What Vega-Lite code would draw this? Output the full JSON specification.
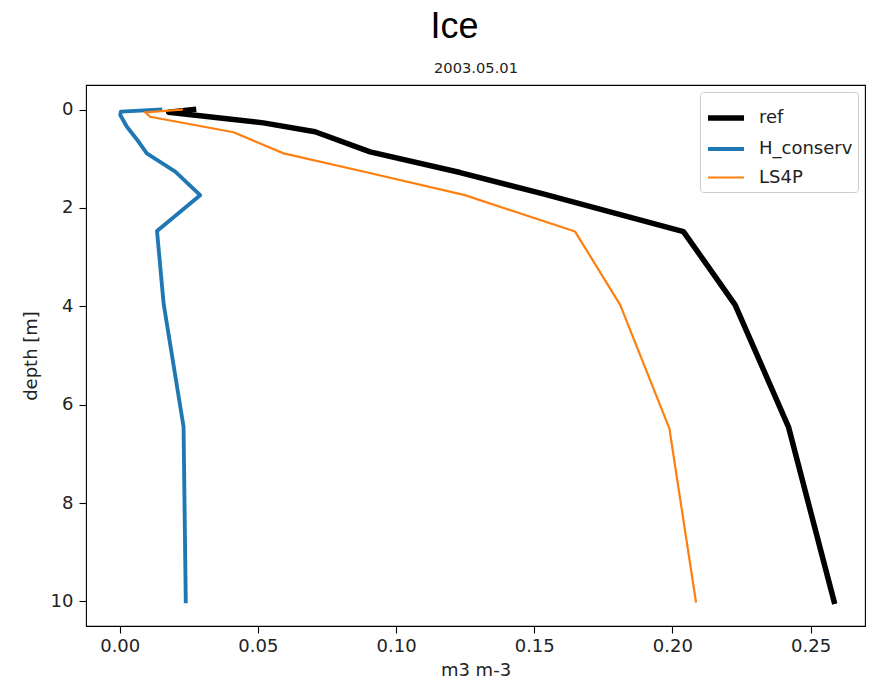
{
  "$schema": "https://vega.github.io/schema/vega-lite/v6.json",
  "autosize": {"type": "none"},
  "width": 779,
  "height": 541,
  "padding": {"left": 86, "top": 85, "right": 18, "bottom": 61},
  "background": "white",
  "title": {
    "text": "Ice",
    "anchor": "middle",
    "dx": -21,
    "font": "Liberation Sans",
    "fontSize": 36,
    "fontWeight": "normal",
    "color": "black",
    "offset": 14
  },
  "config": {
    "view": {"stroke": "black", "strokeWidth": 1.1},
    "axis": {
      "labelFont": "DejaVu Sans",
      "titleFont": "DejaVu Sans",
      "labelFontSize": 18,
      "titleFontSize": 18,
      "labelColor": "#222",
      "titleColor": "#222",
      "titleFontWeight": "normal",
      "grid": false,
      "domain": false,
      "tickColor": "black",
      "tickSize": 7,
      "tickWidth": 1.1
    },
    "legend": {
      "labelFont": "DejaVu Sans",
      "labelFontSize": 18,
      "labelColor": "#222"
    }
  },
  "data": {
    "values": [
      {"series": "ref", "depth": 0.0, "value": 0.0267},
      {"series": "ref", "depth": 0.055, "value": 0.0177},
      {"series": "ref", "depth": 0.27, "value": 0.052},
      {"series": "ref", "depth": 0.45, "value": 0.0707},
      {"series": "ref", "depth": 0.86, "value": 0.0906},
      {"series": "ref", "depth": 1.28, "value": 0.1232},
      {"series": "ref", "depth": 1.72, "value": 0.1536},
      {"series": "ref", "depth": 2.48, "value": 0.204},
      {"series": "ref", "depth": 3.97, "value": 0.2227},
      {"series": "ref", "depth": 6.45, "value": 0.242},
      {"series": "ref", "depth": 10.0, "value": 0.2585},
      {"series": "H_conserv", "depth": 0.0, "value": 0.0147},
      {"series": "H_conserv", "depth": 0.04, "value": 0.0004},
      {"series": "H_conserv", "depth": 0.11, "value": 0.0002},
      {"series": "H_conserv", "depth": 0.35, "value": 0.0026},
      {"series": "H_conserv", "depth": 0.65, "value": 0.0068},
      {"series": "H_conserv", "depth": 0.89, "value": 0.0098},
      {"series": "H_conserv", "depth": 1.26, "value": 0.0201},
      {"series": "H_conserv", "depth": 1.74, "value": 0.0291},
      {"series": "H_conserv", "depth": 2.47, "value": 0.0135},
      {"series": "H_conserv", "depth": 3.95, "value": 0.0159},
      {"series": "H_conserv", "depth": 6.45, "value": 0.0231},
      {"series": "H_conserv", "depth": 10.0, "value": 0.0239},
      {"series": "LS4P", "depth": 0.0, "value": 0.0225},
      {"series": "LS4P", "depth": 0.055, "value": 0.0092},
      {"series": "LS4P", "depth": 0.145, "value": 0.011},
      {"series": "LS4P", "depth": 0.46, "value": 0.0412},
      {"series": "LS4P", "depth": 0.89, "value": 0.0593},
      {"series": "LS4P", "depth": 1.28, "value": 0.0897},
      {"series": "LS4P", "depth": 1.74, "value": 0.1249},
      {"series": "LS4P", "depth": 2.48, "value": 0.1648},
      {"series": "LS4P", "depth": 3.97, "value": 0.1811},
      {"series": "LS4P", "depth": 6.48, "value": 0.1989},
      {"series": "LS4P", "depth": 10.0, "value": 0.2085}
    ]
  },
  "resolve": {"axis": {"x": "independent"}},
  "layer": [
    {
      "transform": [{"filter": "datum.series === 'ref'"}],
      "mark": {"type": "line", "strokeCap": "square", "strokeJoin": "round"},
      "encoding": {
        "x": {
          "field": "value", "type": "quantitative",
          "scale": {"domain": [-0.0122, 0.2697], "nice": false, "zero": false},
          "axis": {"title": "m3 m-3", "values": [0, 0.05, 0.1, 0.15, 0.2, 0.25], "format": ".2f", "labelPadding": 4, "titlePadding": 6}
        },
        "y": {
          "field": "depth", "type": "quantitative",
          "scale": {"domain": [-0.5, 10.5], "nice": false, "zero": false, "reverse": true},
          "axis": {"title": "depth [m]", "values": [0, 2, 4, 6, 8, 10], "labelPadding": 6, "titlePadding": 10}
        },
        "order": {"field": "depth", "type": "quantitative"},
        "color": {
          "field": "series", "type": "nominal",
          "scale": {"domain": ["ref", "H_conserv", "LS4P"], "range": ["black", "#1f77b4", "#ff7f0e"]},
          "legend": {
            "title": null,
            "orient": "top-right",
            "offset": 7,
            "symbolType": "stroke",
            "symbolSize": 1300,
            "rowPadding": -7,
            "labelOffset": 12,
            "padding": 5,
            "strokeColor": "#ccc",
            "cornerRadius": 3,
            "fillColor": "white"
          }
        },
        "strokeWidth": {
          "field": "series", "type": "nominal",
          "scale": {"domain": ["ref", "H_conserv", "LS4P"], "range": [5.5, 2.2, 2.2]}
        }
      }
    },
    {
      "transform": [{"filter": "datum.series !== 'ref'"}],
      "mark": {"type": "line", "strokeCap": "square", "strokeJoin": "round"},
      "encoding": {
        "x": {
          "field": "value", "type": "quantitative",
          "scale": {"domain": [-0.0122, 0.2697], "nice": false, "zero": false},
          "axis": {"orient": "top", "title": "2003.05.01", "labels": false, "ticks": false, "titleFontSize": 14.7, "titlePadding": 10}
        },
        "y": {"field": "depth", "type": "quantitative"},
        "order": {"field": "depth", "type": "quantitative"},
        "color": {"field": "series", "type": "nominal"},
        "strokeWidth": {"field": "series", "type": "nominal"}
      }
    }
  ]
}
